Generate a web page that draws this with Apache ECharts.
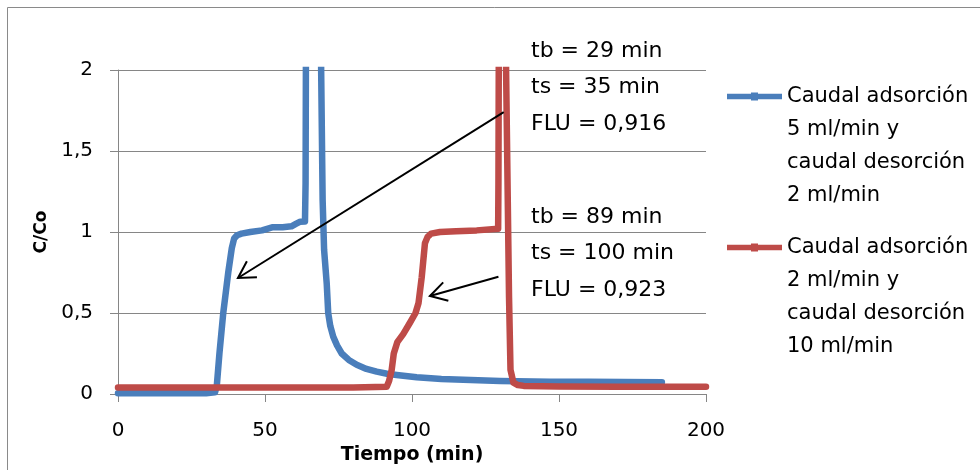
<!DOCTYPE html>
<html>
<head>
<meta charset="utf-8">
<script src="https://cdn.jsdelivr.net/npm/echarts@6/dist/echarts.min.js"></script>
<style>
  html, body { margin: 0; padding: 0; background: #ffffff; }
  #chart { width: 980px; height: 470px; }
</style>
</head>
<body>
<div id="chart"></div>
<script>
// Axis ticks
const xTicks = [0, 50, 100, 150, 200];
const yTicks = [0, 0.5, 1, 1.5, 2];

// Series names (legend)
const seriesNames = [
  'Caudal adsorción\n5 ml/min y\ncaudal desorción\n2 ml/min',
  'Caudal adsorción\n2 ml/min y\ncaudal desorción\n10 ml/min'
];

// Run 1: adsorción 5 ml/min, desorción 2 ml/min — time (min) and C/Co
const run1Time = [0, 10, 20, 30, 33, 33.6, 34.5, 35.8, 37.5, 38.7, 39.5, 40.5, 42, 45, 49, 52.7, 56, 59, 60.5, 62, 63.6, 63.8, 64, 68.9, 69.1, 69.6, 70.1, 71.0, 71.5, 72.2, 73.2, 74.5, 76.1, 78.5, 81.2, 84.5, 88, 91.5, 94.8, 101.6, 110, 120, 130, 147, 160, 172, 185];
const run1Ratio = [0.005, 0.005, 0.005, 0.005, 0.01, 0.05, 0.25, 0.5, 0.75, 0.9, 0.96, 0.98, 0.99, 1.0, 1.01, 1.03, 1.03, 1.035, 1.05, 1.064, 1.065, 1.3, 2.6, 2.6, 2.0, 1.2, 0.89, 0.68, 0.5, 0.42, 0.354, 0.3, 0.25, 0.21, 0.18, 0.155, 0.138, 0.125, 0.117, 0.103, 0.092, 0.086, 0.08, 0.076, 0.075, 0.074, 0.072];

// Run 2: adsorción 2 ml/min, desorción 10 ml/min — time (min) and C/Co
const run2Time = [0, 20, 40, 60, 80, 91.4, 92.2, 93.1, 93.8, 95, 97, 99.3, 101.2, 102.2, 103.3, 104.4, 105.3, 106.5, 109.5, 115, 122, 129.3, 129.4, 129.6, 131.8, 132, 133, 133.5, 134.5, 136, 138, 150, 170, 200];
const run2Ratio = [0.04, 0.04, 0.04, 0.04, 0.04, 0.045, 0.08, 0.15, 0.25, 0.32, 0.37, 0.44, 0.5, 0.56, 0.72, 0.93, 0.97, 0.99, 1.0, 1.005, 1.01, 1.02, 1.3, 2.6, 2.6, 2.0, 0.6, 0.15, 0.07, 0.055, 0.05, 0.047, 0.045, 0.045];

// Annotation text blocks and arrows (data coordinates)
const noteLines = [
  ['tb = 29 min', 'ts = 35 min', 'FLU = 0,916'],
  ['tb = 89 min', 'ts = 100 min', 'FLU = 0,923']
];
const arrowFrom = [[131.2, 1.74], [129.4, 0.724]];
const arrowTo = [[40.8, 0.716], [106.1, 0.605]];

const colors = ['#4A7EBB', '#BE4B48'];
const FONT = 'DejaVu Sans';
const axisGray = '#868686';

function pairs(xs, ys) {
  return xs.map((x, i) => [x, ys[i]]);
}

const chart = echarts.init(document.getElementById('chart'), null, { renderer: 'canvas' });

// Legend key: line with a small square marker, placed level with the first text line.
// The zero-area end points keep the key box as tall as the four-line label.
const legendIcon = 'path://M0,0 L0.01,0 Z M0,13.7 H24 V12.5 H31 V13.7 H55 V19.3 H31 V20.5 H24 V19.3 H0 Z M0,132 L0.01,132 Z';

function legendFor(name, top) {
  return {
    data: [name],
    orient: 'vertical',
    left: 727,
    top: top,
    padding: 0,
    icon: legendIcon,
    itemWidth: 55,
    itemHeight: 132,
    symbolKeepAspect: false,
    selectedMode: false,
    textStyle: {
      fontFamily: FONT,
      fontSize: 21,
      color: '#000',
      lineHeight: 33
    }
  };
}

chart.setOption({
  animation: false,
  color: colors,
  grid: { left: 118, right: 274, top: 70, bottom: 76, containLabel: false },
  xAxis: {
    type: 'value',
    min: xTicks[0],
    max: xTicks[xTicks.length - 1],
    interval: xTicks[1] - xTicks[0],
    name: 'Tiempo (min)',
    nameLocation: 'middle',
    nameGap: 52,
    nameTextStyle: { fontFamily: FONT, fontSize: 19, fontWeight: 'bold', color: '#000' },
    axisLine: { show: true, lineStyle: { color: axisGray, width: 1 } },
    axisTick: { show: true, length: 8, lineStyle: { color: axisGray } },
    axisLabel: { fontFamily: FONT, fontSize: 20, color: '#000', margin: 27 },
    splitLine: { show: false }
  },
  yAxis: {
    type: 'value',
    min: yTicks[0],
    max: yTicks[yTicks.length - 1],
    interval: yTicks[1] - yTicks[0],
    name: 'C/Co',
    nameLocation: 'middle',
    nameGap: 67,
    nameRotate: 90,
    nameTextStyle: { fontFamily: FONT, fontSize: 17, fontWeight: 'bold', color: '#000' },
    axisLine: { show: true, lineStyle: { color: axisGray, width: 1 } },
    axisTick: { show: true, length: 8, lineStyle: { color: axisGray } },
    axisLabel: {
      fontFamily: FONT, fontSize: 20, color: '#000', margin: 25,
      formatter: v => String(v).replace('.', ',')
    },
    splitLine: { show: true, lineStyle: { color: axisGray, width: 1 } }
  },
  legend: [
    legendFor(seriesNames[0], 80),
    legendFor(seriesNames[1], 231)
  ],
  series: [
    {
      name: seriesNames[0],
      type: 'line',
      data: pairs(run1Time, run1Ratio),
      showSymbol: false,
      symbol: 'none',
      clip: true,
      lineStyle: { color: colors[0], width: 6.5, cap: 'round', join: 'round' },
      itemStyle: { color: colors[0] },
      z: 2
    },
    {
      name: seriesNames[1],
      type: 'line',
      data: pairs(run2Time, run2Ratio),
      showSymbol: false,
      symbol: 'none',
      clip: true,
      lineStyle: { color: colors[1], width: 6.5, cap: 'round', join: 'round' },
      itemStyle: { color: colors[1] },
      z: 3
    }
  ]
});

// Frame, annotation text and arrows
const graphics = [
  {
    type: 'rect',
    shape: { x: 7.5, y: 7.5, width: 1000, height: 500 },
    style: { fill: 'none', stroke: '#8a8a8a', lineWidth: 1 },
    silent: true,
    z: 0
  }
];

const noteTops = [40, 206];
noteLines.forEach((lines, k) => {
  lines.forEach((txt, j) => {
    graphics.push({
      type: 'text',
      left: 531,
      top: noteTops[k] + j * 36.5,
      style: { text: txt, fontFamily: FONT, fontSize: 22, fill: '#000' },
      z: 10
    });
  });
});

arrowFrom.forEach((from, i) => {
  const p0 = chart.convertToPixel({ gridIndex: 0 }, from);
  const p1 = chart.convertToPixel({ gridIndex: 0 }, arrowTo[i]);
  const ang = Math.atan2(p0[1] - p1[1], p0[0] - p1[0]);
  const len = 19;
  const spread = Math.PI / 6;
  const h1 = [p1[0] + len * Math.cos(ang - spread), p1[1] + len * Math.sin(ang - spread)];
  const h2 = [p1[0] + len * Math.cos(ang + spread), p1[1] + len * Math.sin(ang + spread)];
  graphics.push({
    type: 'line',
    shape: { x1: p0[0], y1: p0[1], x2: p1[0], y2: p1[1] },
    style: { stroke: '#000', lineWidth: 2 },
    z: 10
  });
  graphics.push({
    type: 'polyline',
    shape: { points: [h1, p1, h2] },
    style: { stroke: '#000', lineWidth: 2, fill: 'none' },
    z: 10
  });
});

chart.setOption({ graphic: graphics });
</script>
</body>
</html>
